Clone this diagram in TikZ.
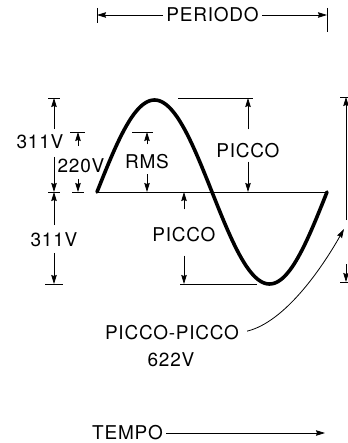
\documentclass[tikz,border=0pt]{standalone}
\usepackage{fontspec}
\setmainfont{TeX Gyre Heros}
\newfontfamily\lblfont[LetterSpace=4]{TeX Gyre Heros}
\usetikzlibrary{arrows.meta}

\begin{document}
\begin{tikzpicture}[x=1pt, y=-1pt, >={Stealth[length=9pt,width=5.5pt,inset=1pt]},
  line width=0.8pt,
  every node/.style={font={\lblfont\fontsize{19}{22}\selectfont}, inner sep=0pt},
  bar/.style={line width=0.9pt},
  wave/.style={line width=3.6pt, line cap=round}]

  \useasboundingbox (0,0) rectangle (347,443);

  % --- horizontal positions ---
  \def\xs{97}
  \def\xe{327}

  % --- vertical positions ---
  \def\yp{98}
  \def\yz{192}
  \def\yn{284}

  % ============================================================
  % Wave and zero line
  % ============================================================
  \draw (\xs,\yz) -- (\xe,\yz);
  \draw[wave] plot[domain=0:360, samples=120] ({\xs+\x/360*230}, {\yz-92*sin(\x)});

  % ============================================================
  % Period (top) and time axis (bottom)
  % ============================================================
  \node (tper) at (212.5,15) {PERIODO};
  \coordinate (perl) at (\xs,15);
  \coordinate (perr) at (\xe,15);
  \draw[bar] (\xs,8) -- (\xs,23);
  \draw[bar] (\xe,8) -- (\xe,32);
  \draw[->, shorten <=3pt] (tper.west) -- (perl);
  \draw[->, shorten <=3pt] (tper.east) -- (perr);

  \node (ttempo) at (127.5,433) {TEMPO};
  \coordinate (tend) at (325,433);
  \draw[->, shorten <=3pt] (ttempo.east) -- (tend);

  % ============================================================
  % Left: 311V above and below, 220V
  % ============================================================
  \node (tvpa) at (40,142) {311V};
  \coordinate (vat) at (54,\yp);
  \coordinate (vab) at (54,\yz);
  \draw[bar] (48,\yp) -- (60,\yp);
  \draw[bar] (48,\yz) -- (60,\yz);
  \draw[->, shorten <=5.5pt] (tvpa.north -| vat) -- (vat);
  \draw[->, shorten <=7.5pt] (tvpa.south -| vab) -- (vab);

  \node (tvpb) at (54,240) {311V};
  \coordinate (vbt) at (54,\yz);
  \coordinate (vbb) at (54,\yn);
  \draw[bar] (45,\yn) -- (63,\yn);
  \draw[->, shorten <=7.5pt] (tvpb) -- (vbt);
  \draw[->, shorten <=5.5pt] (tvpb) -- (vbb);

  \node (tveff) at (81,166) {220V};
  \coordinate (vet) at (78,132);
  \coordinate (veb) at (78,\yz);
  \draw[bar] (70,132) -- (85,132);
  \draw[bar] (72,\yz) -- (84,\yz);
  \draw[->, shorten <=12.5pt] (tveff.north -| vet) -- (vet);
  \draw[->, shorten <=5.5pt] (tveff.south -| veb) -- (veb);

  % ============================================================
  % RMS and peaks
  % ============================================================
  \node (trms) at (147,162) {RMS};
  \coordinate (rt) at (147,132);
  \coordinate (rb) at (147,\yz);
  \draw[bar] (132,132) -- (153,132);
  \draw[->, shorten <=10pt] (trms) -- (rt);
  \draw[->, shorten <=4.5pt] (trms) -- (rb);

  \node (tpka) at (248,151) {PICCO};
  \coordinate (pat) at (248,\yp);
  \coordinate (pab) at (248,\yz);
  \draw[bar] (178,\yp) -- (253,\yp);
  \draw[->, shorten <=14pt] (tpka) -- (pat);
  \draw[->, shorten <=3pt] (tpka) -- (pab);

  \node (tpkb) at (184,235) {PICCO};
  \coordinate (pbt) at (184,\yz);
  \coordinate (pbb) at (184,\yn);
  \draw[bar] (180,\yn) -- (257,\yn);
  \draw[->, shorten <=18pt] (tpkb) -- (pbt);
  \draw[->, shorten <=13pt] (tpkb) -- (pbb);

  % ============================================================
  % Peak to peak (cut at the right edge)
  % ============================================================
  \coordinate (ppt) at (346,97);
  \coordinate (ppm) at (346,220);
  \coordinate (ppb) at (346,282);
  \draw[bar] (340,97) -- (352,97);
  \draw[bar] (340,282) -- (352,282);
  \draw[->] (ppm) -- (ppt);
  \draw[->, shorten <=44pt] (ppm) -- (ppb);

  \node (tpp) at (172,333) {PICCO-PICCO};
  \node (tppv) at (171,360) {622V};
  \coordinate (ppl) at (344,229);
  \draw[->, shorten <=8pt] (tpp.east) .. controls (285,322) and (322,268) .. (ppl);

\end{tikzpicture}
\end{document}
